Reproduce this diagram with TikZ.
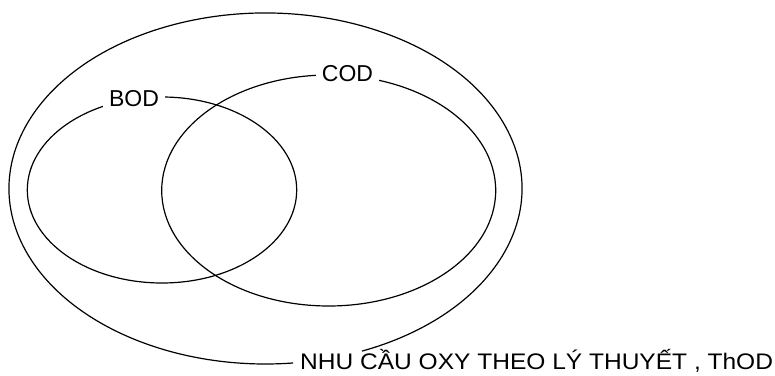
\documentclass[tikz,border=0pt]{standalone}
\usepackage{fontspec}
\setmainfont{Liberation Sans}
\newfontfamily\widefont[FakeStretch=1.09]{Liberation Sans}
\begin{document}
\begin{tikzpicture}[x=1pt,y=1pt,
  curve/.style={draw=black, line width=1.2pt},
  tag/.style={fill=white, inner xsep=6pt, inner ysep=3pt, anchor=base, font=\fontsize{23}{23}\selectfont},
  bigtag/.style={anchor=base west, inner sep=0pt, font=\widefont\fontsize{22.5}{22.5}\selectfont}]
\useasboundingbox (0,0) rectangle (775,375);
\coordinate (outerc) at (265.5,186.5);
\coordinate (bodc) at (162,185);
\coordinate (codc) at (328.7,184.5);
\draw[curve] (outerc) ++(-67.9:256.5 and 175.5) arc[start angle=-67.9, end angle=276.2, x radius=256.5, y radius=175.5];
\draw[curve] (bodc) ellipse[x radius=134.7, y radius=93];
\draw[curve] (codc) ellipse[x radius=167, y radius=115.5];
\node[tag] (bod) at (134,268.3) {BOD};
\node[tag] (cod) at (347.5,293.3) {COD};
\node[bigtag] (thod) at (300,6) {NHU CẦU OXY THEO LÝ THUYẾT , ThOD};
\end{tikzpicture}
\end{document}
